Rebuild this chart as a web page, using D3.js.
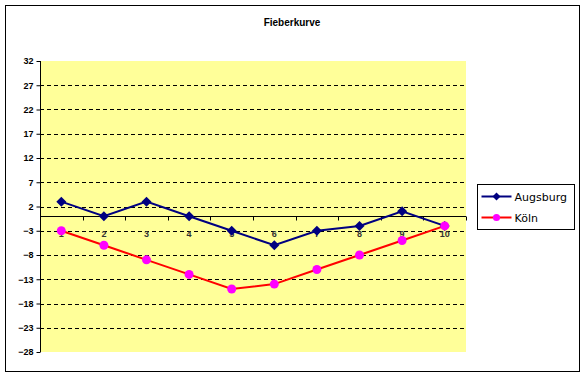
<!DOCTYPE html>
<meta charset="utf-8">
<style>
body { margin: 0; background: #fff; }
.axis text { font: bold 9px "Liberation Sans", Arial, sans-serif; fill: #000; }
.title { font: bold 10px "Liberation Sans", Arial, sans-serif; }
.legend text { font: 11px "DejaVu Sans", sans-serif; }
</style>
<svg width="584" height="377"></svg>
<script src="https://d3js.org/d3.v7.min.js"></script>
<script>

var days = [1, 2, 3, 4, 5, 6, 7, 8, 9, 10];
var augsburg = [3, 0, 3, 0, -3, -6, -3, -2, 1, -2];
var koeln = [-3, -6, -9, -12, -15, -14, -11, -8, -5, -2];
var yTicks = [-28, -23, -18, -13, -8, -3, 2, 7, 12, 17, 22, 27, 32];

var svg = d3.select("svg"),
    margin = {top: 61, left: 40},
    width = 426,
    height = 291;

// outer frame
svg.append("rect")
    .attr("x", 5.5).attr("y", 5.5)
    .attr("width", 574).attr("height", 366)
    .attr("fill", "#fff")
    .attr("stroke", "#000");

svg.append("text")
    .attr("class", "title")
    .attr("x", 292)
    .attr("y", 26)
    .attr("text-anchor", "middle")
    .text("Fieberkurve");

var g = svg.append("g")
    .attr("transform", "translate(" + margin.left + "," + margin.top + ")");

var x = d3.scaleBand().domain(days).range([0, width]);
var y = d3.scaleLinear().domain([-28, 32]).range([height, 0]);

g.append("rect")
    .attr("width", width)
    .attr("height", height)
    .attr("fill", "#ffff99");

// grid lines
g.append("g").selectAll("line")
    .data(yTicks.filter(function(d) { return d > -28 && d < 32; }))
  .enter().append("line")
    .attr("x1", 0).attr("x2", width)
    .attr("y1", function(d) { return Math.round(y(d)) + 0.5; })
    .attr("y2", function(d) { return Math.round(y(d)) + 0.5; })
    .attr("stroke", "#000")
    .attr("stroke-dasharray", "4,3");

// y axis
var yAxis = g.append("g")
    .attr("class", "axis")
    .attr("transform", "translate(0.5,0)")
    .call(d3.axisLeft(y).tickValues(yTicks).tickSize(4).tickPadding(3));
yAxis.select(".domain").attr("d", "M0,0V" + height);

// x axis at zero
var zeroY = Math.round(y(0)) + 0.5;
var xAxis = g.append("g")
    .attr("transform", "translate(0," + zeroY + ")");
xAxis.append("line")
    .attr("x1", 0).attr("x2", width)
    .attr("stroke", "#000");
xAxis.selectAll(".tk")
    .data(days)
  .enter().append("line")
    .attr("x1", function(d) { return Math.round(x(d) + x.bandwidth()) + 0.5; })
    .attr("x2", function(d) { return Math.round(x(d) + x.bandwidth()) + 0.5; })
    .attr("y1", 0).attr("y2", 4)
    .attr("stroke", "#000");
xAxis.selectAll("text")
    .data(days)
  .enter().append("text")
    .attr("x", function(d) { return x(d) + x.bandwidth() / 2; })
    .attr("y", 20)
    .attr("text-anchor", "middle")
    .style("font", "bold 9px 'Liberation Sans', Arial, sans-serif")
    .style("fill", "#333")
    .text(function(d) { return d; });

var cx = function(d, i) { return x(days[i]) + x.bandwidth() / 2; };
var line = d3.line()
    .x(cx)
    .y(function(d) { return y(d); });

g.append("path")
    .datum(augsburg)
    .attr("d", line)
    .attr("fill", "none")
    .attr("stroke", "#000080")
    .attr("stroke-width", 2);

g.append("path")
    .datum(koeln)
    .attr("d", line)
    .attr("fill", "none")
    .attr("stroke", "#ff0000")
    .attr("stroke-width", 2);

var diamond = "M0,-5L5,0L0,5L-5,0Z";

g.selectAll(".ma")
    .data(augsburg)
  .enter().append("path")
    .attr("d", diamond)
    .attr("fill", "#000080")
    .attr("transform", function(d, i) { return "translate(" + cx(d, i) + "," + y(d) + ")"; });

g.selectAll(".mk")
    .data(koeln)
  .enter().append("circle")
    .attr("r", 4.5)
    .attr("fill", "#ff00ff")
    .attr("cx", cx)
    .attr("cy", function(d) { return y(d); });

// legend
var legend = svg.append("g")
    .attr("class", "legend")
    .attr("transform", "translate(477.5,184.5)");

legend.append("rect")
    .attr("width", 97).attr("height", 45)
    .attr("fill", "#fff")
    .attr("stroke", "#000");

var items = [
  {name: "Augsburg", line: "#000080", mark: "#000080", shape: "diamond"},
  {name: "Köln", line: "#ff0000", mark: "#ff00ff", shape: "circle"}
];

var item = legend.selectAll(".item")
    .data(items)
  .enter().append("g")
    .attr("transform", function(d, i) { return "translate(0," + (12 + i * 21) + ")"; });

item.append("line")
    .attr("x1", 4).attr("x2", 34)
    .attr("stroke", function(d) { return d.line; })
    .attr("stroke-width", 2);

item.append("path")
    .attr("d", function(d) { return d.shape === "diamond" ? "M0,-4L4,0L0,4L-4,0Z" : d3.symbol(d3.symbolCircle, 40)(); })
    .attr("transform", "translate(19,0)")
    .attr("fill", function(d) { return d.mark; });

item.append("text")
    .attr("x", 37)
    .attr("y", 4)
    .text(function(d) { return d.name; });

</script>
